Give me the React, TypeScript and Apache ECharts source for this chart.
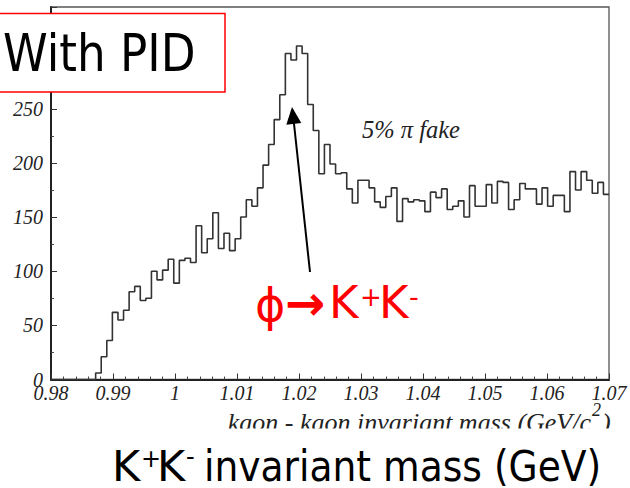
import React, { useEffect, useRef } from "react";
import * as echarts from "echarts";

// Histogram: 100 bins of 0.0009 GeV from 0.98 to 1.07
const binStart = 0.98;
const binWidth = 0.0009;
const counts = [
  0, 0, 0, 0, 0, 0, 0, 0,
  6, 21, 36, 62, 55, 64, 81, 86, 73, 75,
  100, 92, 101, 111, 89, 110, 112, 108, 142, 117,
  130, 154, 121, 135, 119, 130, 150, 166, 160, 177,
  198, 217, 240, 263, 301, 295, 308, 301, 254, 230,
  190, 217, 199, 190, 191, 176, 163, 184, 184, 177,
  164, 159, 169, 177, 146, 167, 164, 166, 165, 155,
  173, 168, 176, 157, 160, 165, 150, 179, 160, 160,
  180, 163, 183, 182, 157, 166, 181, 176, 176, 162,
  177, 160, 170, 170, 155, 192, 175, 192, 184, 172,
  182, 171,
];
const xMin = 0.98;
const xMax = 1.07;
const xStep = 0.01;
const yMin = 0;
const yMax = 344;
const yStep = 50;

const titleText = "With PID";
const annotText = "5% \u03c0 fake";
const axisTitleMain = "kaon - kaon invariant mass (GeV/c";
const axisTitleSup = "2";
const axisTitleEnd = ")";
const bottomMain = " invariant mass (GeV)";

const serif = "'Liberation Serif', 'Times New Roman', serif";
const sans = "'DejaVu Sans', Verdana, sans-serif";

export default function App() {
  const ref = useRef<HTMLDivElement>(null);
  useEffect(() => {
    if (!ref.current) return;
    const chart = echarts.init(ref.current, undefined, { renderer: "svg" });
    const data: [number, number][] = counts.map((c, i) => [
      +(binStart + i * binWidth).toFixed(5),
      c,
    ]);
    data.push([xMax, counts[counts.length - 1]]);

    const red = "#ff0000";
    const option: any = {
      animation: false,
      backgroundColor: "#ffffff",
      grid: {
        left: 51,
        top: 7,
        width: 558,
        height: 372.5,
        show: true,
        borderColor: "#555",
        borderWidth: 1.3,
        backgroundColor: "transparent",
      },
      xAxis: {
        type: "value",
        min: xMin,
        max: xMax,
        interval: xStep,
        axisLine: { show: true, onZero: false, lineStyle: { color: "#222", width: 2 } },
        axisTick: { show: true, inside: true, length: 6, lineStyle: { color: "#333", width: 1 } },
        minorTick: { show: true, splitNumber: 5, length: 3, lineStyle: { color: "#444", width: 1 } },
        splitLine: { show: false },
        axisLabel: {
          show: true,
          margin: 3,
          fontFamily: serif,
          fontStyle: "italic",
          fontSize: 20,
          color: "#222",
          formatter: (v: number) => String(+v.toFixed(2)),
        },
      },
      yAxis: {
        type: "value",
        min: yMin,
        max: yMax,
        interval: yStep,
        axisLine: { show: true, lineStyle: { color: "#222", width: 2 } },
        axisTick: { show: true, inside: true, length: 6, lineStyle: { color: "#333", width: 1 } },
        minorTick: { show: true, splitNumber: 2, length: 3, lineStyle: { color: "#444", width: 1 } },
        splitLine: { show: false },
        axisLabel: {
          show: true,
          margin: 8,
          showMaxLabel: false,
          fontFamily: serif,
          fontStyle: "italic",
          fontSize: 20,
          color: "#222",
        },
      },
      series: [
        {
          type: "line",
          step: "end",
          data,
          symbol: "none",
          lineStyle: { color: "#333", width: 1.6 },
          z: 3,
        },
      ],
      graphic: [
        // clip the bottom of the axis title like the slide crop
        { type: "rect", z: 90, shape: { x: 0, y: 428.5, width: 630, height: 15 }, style: { fill: "#fff" } },
        // With PID box
        { type: "rect", z: 100, shape: { x: -2, y: 13.5, width: 227, height: 78.5 }, style: { fill: "#fff", stroke: red, lineWidth: 1.5 } },
        { type: "text", z: 101, x: 3, y: 53, scaleX: 0.87, style: { text: titleText, fontFamily: sans, fontSize: 52, fill: "#000", align: "left", verticalAlign: "middle" } },
        // black arrow
        { type: "line", z: 100, shape: { x1: 310, y1: 272, x2: 293.8, y2: 122 }, style: { stroke: "#000", lineWidth: 2 } },
        { type: "polygon", z: 100, shape: { points: [[292, 107], [301.3, 123.1], [286.3, 124.7]] }, style: { fill: "#000" } },
        // red phi -> K+K-
        { type: "text", z: 101, x: 255, y: 305, style: { text: "\u03d5", fontFamily: sans, fontSize: 46, fill: red, align: "left", verticalAlign: "middle" } },
        { type: "text", z: 101, x: 285, y: 303, style: { text: "\u2192", fontFamily: sans, fontWeight: "bold", fontSize: 48, fill: red, align: "left", verticalAlign: "middle" } },
        { type: "text", z: 101, x: 329, y: 302, style: { text: "K", fontFamily: sans, fontSize: 45, fill: red, align: "left", verticalAlign: "middle" } },
        { type: "text", z: 101, x: 360, y: 297, style: { text: "+", fontFamily: sans, fontSize: 26, fill: red, align: "left", verticalAlign: "middle" } },
        { type: "text", z: 101, x: 379, y: 302, style: { text: "K", fontFamily: sans, fontSize: 45, fill: red, align: "left", verticalAlign: "middle" } },
        { type: "text", z: 101, x: 409, y: 296, style: { text: "-", fontFamily: sans, fontSize: 27, fill: red, align: "left", verticalAlign: "middle" } },
        // annotation
        { type: "text", z: 101, x: 362, y: 129, style: { text: annotText, fontFamily: serif, fontStyle: "italic", fontSize: 24.5, fill: "#222", align: "left", verticalAlign: "middle" } },
        // axis title
        { type: "text", z: 80, x: 591, y: 422, style: { text: axisTitleMain, fontFamily: serif, fontStyle: "italic", fontSize: 26, fill: "#222", align: "right", verticalAlign: "middle" } },
        { type: "text", z: 80, x: 592, y: 410, style: { text: axisTitleSup, fontFamily: serif, fontStyle: "italic", fontSize: 18, fill: "#222", align: "left", verticalAlign: "middle" } },
        { type: "text", z: 80, x: 602, y: 422, style: { text: axisTitleEnd, fontFamily: serif, fontStyle: "italic", fontSize: 26, fill: "#222", align: "left", verticalAlign: "middle" } },
        // slide caption
        { type: "text", z: 101, x: 112, y: 466, style: { text: "K", fontFamily: sans, fontSize: 43, fill: "#000", align: "left", verticalAlign: "middle" } },
        { type: "text", z: 101, x: 141, y: 459, style: { text: "+", fontFamily: sans, fontSize: 24, fill: "#000", align: "left", verticalAlign: "middle" } },
        { type: "text", z: 101, x: 157, y: 466, style: { text: "K", fontFamily: sans, fontSize: 43, fill: "#000", align: "left", verticalAlign: "middle" } },
        { type: "text", z: 101, x: 186, y: 457, style: { text: "-", fontFamily: sans, fontSize: 24, fill: "#000", align: "left", verticalAlign: "middle" } },
        { type: "text", z: 101, x: 192, y: 466, scaleX: 0.875, style: { text: bottomMain, fontFamily: sans, fontSize: 43, fill: "#000", align: "left", verticalAlign: "middle" } },
      ],
    };
    chart.setOption(option);
    return () => chart.dispose();
  }, []);
  return (
    <div
      ref={ref}
      style={{ position: "fixed", left: 0, top: 0, width: 630, height: 488, background: "#fff" }}
    />
  );
}
